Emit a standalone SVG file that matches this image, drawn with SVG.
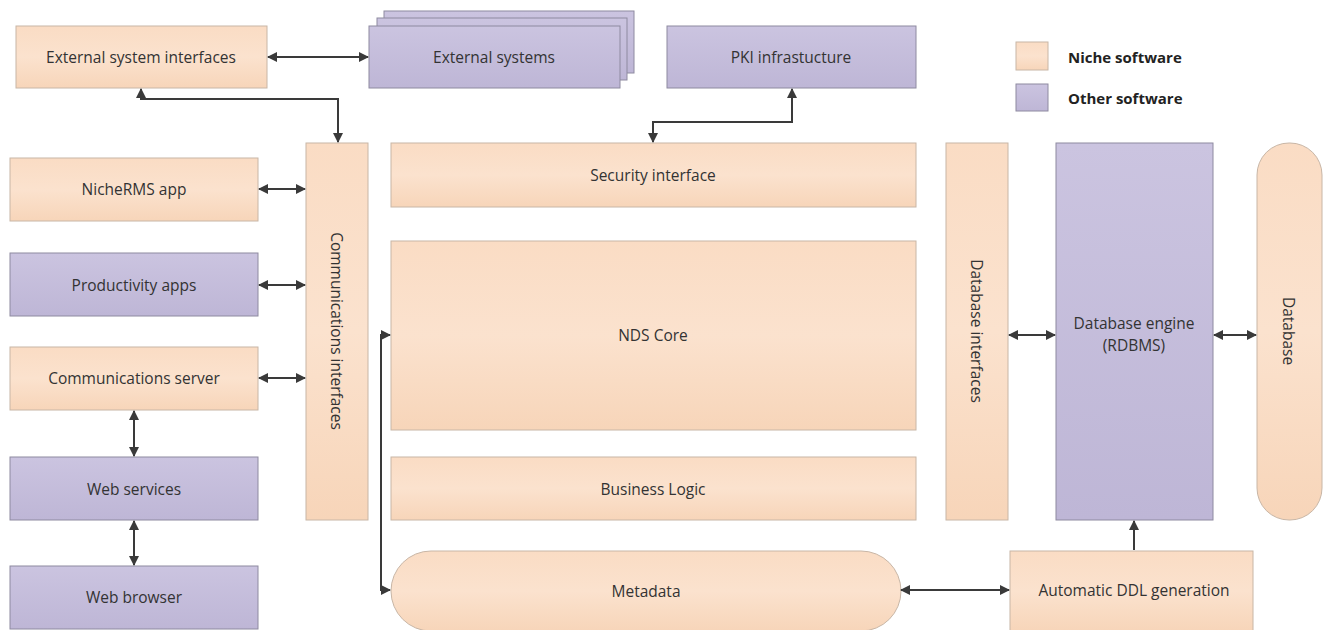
<svg xmlns="http://www.w3.org/2000/svg" width="1323" height="630" viewBox="0 0 1323 630">
  <defs>
    <linearGradient id="gNiche" x1="0" y1="0" x2="0" y2="1">
      <stop offset="0" stop-color="#FADCC4"/>
      <stop offset="0.5" stop-color="#FBE2CE"/>
      <stop offset="1" stop-color="#F7D5B9"/>
    </linearGradient>
    <linearGradient id="gOther" x1="0" y1="0" x2="0" y2="1">
      <stop offset="0" stop-color="#CBC4E0"/>
      <stop offset="1" stop-color="#BEB6D6"/>
    </linearGradient>
    <marker id="arr" viewBox="0 0 10 10" refX="9" refY="5" markerWidth="10" markerHeight="10" markerUnits="userSpaceOnUse" orient="auto-start-reverse">
      <path d="M0,0 L10,5 L0,10 Z" fill="#3a3a3a"/>
    </marker>
    <style>
      .niche { fill: url(#gNiche); stroke: #C8B6A6; stroke-width: 1; }
      .other { fill: url(#gOther); stroke: #8E8AA0; stroke-width: 1; }
      .lbl { font-family: "Open Sans", "Liberation Sans", Arial, sans-serif; font-size: 15.5px; fill: #333; text-anchor: middle; dominant-baseline: central; }
      .leg { font-family: "Open Sans", "Liberation Sans", Arial, sans-serif; font-size: 15px; font-weight: bold; fill: #222; dominant-baseline: central; }
      .conn { fill: none; stroke: #3a3a3a; stroke-width: 2; }
    </style>
  </defs>
  <rect width="1323" height="630" fill="#ffffff"/>

  <g id="legend">
    <rect class="niche" x="1016" y="42" width="32" height="28"/>
    <text class="leg" x="1068" y="57">Niche software</text>
    <rect class="other" x="1016" y="84" width="32" height="27"/>
    <text class="leg" x="1068" y="98">Other software</text>
  </g>

  <g id="ext-sys-if"><rect class="niche" x="16" y="26" width="251" height="62"/><text class="lbl" x="141" y="57">External system interfaces</text></g>
  <g id="ext-sys">
    <rect class="other" x="384" y="11" width="250" height="62"/>
    <rect class="other" x="377" y="18" width="250" height="62"/>
    <rect class="other" x="369" y="26" width="251" height="62"/>
    <text class="lbl" x="494" y="57">External systems</text>
  </g>
  <g id="pki"><rect class="other" x="667" y="26" width="249" height="62"/><text class="lbl" x="791" y="57">PKI infrastucture</text></g>

  <g id="nichermsapp"><rect class="niche" x="10" y="158" width="248" height="63"/><text class="lbl" x="134" y="189">NicheRMS app</text></g>
  <g id="productivity"><rect class="other" x="10" y="253" width="248" height="63"/><text class="lbl" x="134" y="285">Productivity apps</text></g>
  <g id="comm-server"><rect class="niche" x="10" y="347" width="248" height="63"/><text class="lbl" x="134" y="378">Communications server</text></g>
  <g id="web-services"><rect class="other" x="10" y="457" width="248" height="63"/><text class="lbl" x="134" y="489">Web services</text></g>
  <g id="web-browser"><rect class="other" x="10" y="566" width="248" height="63"/><text class="lbl" x="134" y="597">Web browser</text></g>

  <g id="comm-if"><rect class="niche" x="306" y="143" width="62" height="377"/><text class="lbl" transform="translate(337,331) rotate(90)">Communications interfaces</text></g>

  <g id="security"><rect class="niche" x="391" y="143" width="525" height="64"/><text class="lbl" x="653" y="175">Security interface</text></g>
  <g id="nds-core"><rect class="niche" x="391" y="241" width="525" height="189"/><text class="lbl" x="653" y="335">NDS Core</text></g>
  <g id="business"><rect class="niche" x="391" y="457" width="525" height="63"/><text class="lbl" x="653" y="489">Business Logic</text></g>
  <g id="metadata"><rect class="niche" x="391" y="551" width="510" height="80" rx="40" ry="40"/><text class="lbl" x="646" y="591">Metadata</text></g>

  <g id="db-if"><rect class="niche" x="946" y="143" width="62" height="377"/><text class="lbl" transform="translate(977,331) rotate(90)">Database interfaces</text></g>
  <g id="db-engine"><rect class="other" x="1056" y="143" width="157" height="377"/><text class="lbl" x="1134" y="323">Database engine</text><text class="lbl" x="1134" y="345">(RDBMS)</text></g>
  <g id="database"><rect class="niche" x="1257" y="143" width="65" height="377" rx="32" ry="32"/><text class="lbl" transform="translate(1289,331) rotate(90)">Database</text></g>
  <g id="ddl"><rect class="niche" x="1010" y="551" width="243" height="80"/><text class="lbl" x="1134" y="590">Automatic DDL generation</text></g>

  <g id="connectors">
    <path class="conn" d="M268,57 H368" marker-start="url(#arr)" marker-end="url(#arr)"/>
    <path class="conn" d="M141,89 V99 H338 V142" marker-start="url(#arr)" marker-end="url(#arr)"/>
    <path class="conn" d="M792,89 V122 H653 V142" marker-start="url(#arr)" marker-end="url(#arr)"/>
    <path class="conn" d="M259,189 H305" marker-start="url(#arr)" marker-end="url(#arr)"/>
    <path class="conn" d="M259,285 H305" marker-start="url(#arr)" marker-end="url(#arr)"/>
    <path class="conn" d="M259,378 H305" marker-start="url(#arr)" marker-end="url(#arr)"/>
    <path class="conn" d="M134,411 V456" marker-start="url(#arr)" marker-end="url(#arr)"/>
    <path class="conn" d="M134,521 V565" marker-start="url(#arr)" marker-end="url(#arr)"/>
    <path class="conn" d="M390,335 H381 V590 H390" marker-start="url(#arr)" marker-end="url(#arr)"/>
    <path class="conn" d="M901,590 H1009" marker-start="url(#arr)" marker-end="url(#arr)"/>
    <path class="conn" d="M1134,550 V521" marker-end="url(#arr)"/>
    <path class="conn" d="M1009,335 H1055" marker-start="url(#arr)" marker-end="url(#arr)"/>
    <path class="conn" d="M1214,335 H1256" marker-start="url(#arr)" marker-end="url(#arr)"/>
  </g>
</svg>
